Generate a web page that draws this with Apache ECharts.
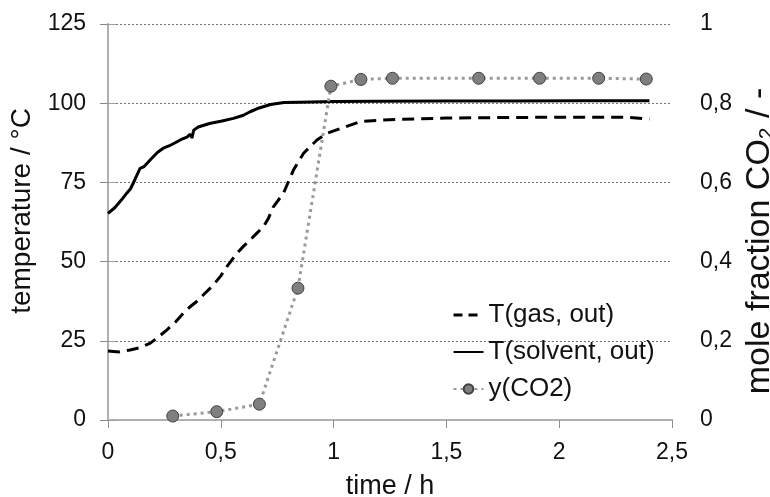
<!DOCTYPE html>
<html>
<head>
<meta charset="utf-8">
<script src="https://cdn.jsdelivr.net/npm/echarts@6/dist/echarts.min.js"></script>
<style>
  html, body { margin: 0; padding: 0; background: #fff; }
  #chart { width: 770px; height: 497px; }
</style>
</head>
<body>
<div id="chart"></div>
<script>
// time in h
var gasTime = [0, 0.05, 0.098, 0.14, 0.186, 0.22, 0.26, 0.30, 0.334, 0.36, 0.393, 0.43, 0.467, 0.50, 0.527, 0.571, 0.60, 0.63, 0.66, 0.689, 0.71, 0.733, 0.778, 0.822, 0.867, 0.926, 0.97, 1.03, 1.12, 1.22, 1.3, 1.5, 1.8, 2.1, 2.3, 2.4];
var gasTemp = [21.8, 21.5, 22.1, 22.8, 24.2, 26, 28.4, 31, 33.7, 35.5, 37.4, 40, 42.6, 45.5, 48.4, 52.6, 54.8, 56.8, 59, 61, 63.5, 67.3, 71.6, 78.9, 84.2, 88.4, 90.5, 92.0, 94.2, 94.7, 94.9, 95.3, 95.5, 95.6, 95.6, 95.0];

var solventTime = [0, 0.03, 0.06, 0.083, 0.10, 0.12, 0.142, 0.16, 0.19, 0.22, 0.245, 0.27, 0.30, 0.32, 0.35, 0.365, 0.372, 0.38, 0.40, 0.45, 0.50, 0.556, 0.60, 0.63, 0.67, 0.72, 0.78, 0.85, 1.0, 1.2, 1.5, 1.8, 2.1, 2.4];
var solventTemp = [65.2, 67, 69.5, 71.6, 73, 76, 79.4, 80, 82.3, 84.5, 85.8, 86.5, 87.6, 88.4, 89.3, 90.2, 89.0, 91.5, 92.5, 93.6, 94.3, 95.2, 96.2, 97.3, 98.5, 99.6, 100.2, 100.3, 100.5, 100.6, 100.7, 100.7, 100.8, 100.8];

var co2Time = [0.287, 0.482, 0.671, 0.842, 0.988, 1.121, 1.261, 1.643, 1.913, 2.175, 2.386];
var co2Frac = [0.010, 0.021, 0.040, 0.333, 0.843, 0.860, 0.863, 0.863, 0.863, 0.863, 0.861];

function pairs(xs, ys) {
  return xs.map(function (x, i) { return [x, ys[i]]; });
}
function comma(v) {
  return String(Math.round(v * 10) / 10).replace('.', ',');
}

var font = 'Liberation Sans, Arial, sans-serif';
var txt = '#111';
var noDot = { color: 'rgba(0,0,0,0)', borderWidth: 0 };
var chart = echarts.init(document.getElementById('chart'));

chart.setOption({
  animation: false,
  textStyle: { fontFamily: font },
  grid: { left: 108, right: 98, top: 24, bottom: 77, outerBoundsMode: 'none' },
  legend: {
    orient: 'vertical',
    left: 447,
    top: 297,
    itemWidth: 30,
    itemHeight: 12,
    itemGap: 11,
    textStyle: { fontSize: 26, color: txt, fontFamily: font },
    data: [
      { name: 'T(gas, out)', itemStyle: noDot, lineStyle: { type: [9, 6], width: 3 } },
      { name: 'T(solvent, out)', itemStyle: noDot },
      { name: 'y(CO2)' }
    ]
  },
  xAxis: [{
    type: 'value',
    min: 0, max: 2.5, interval: 0.5,
    name: 'time / h',
    nameLocation: 'middle',
    nameGap: 53,
    nameTextStyle: { fontSize: 27, color: txt },
    axisLine: { lineStyle: { color: '#b0b0b0', width: 2 } },
    axisTick: { show: true, length: 8, lineStyle: { color: '#909090' } },
    axisLabel: { fontSize: 23, color: txt, margin: 21, formatter: comma },
    splitLine: { show: false }
  }, {
    type: 'value',
    position: 'top',
    min: 0, max: 2.5,
    axisLine: { show: true, lineStyle: { color: '#b0b0b0', width: 2 } },
    axisTick: { show: false },
    axisLabel: { show: false },
    splitLine: { show: false }
  }],
  yAxis: [{
    type: 'value',
    min: 0, max: 125, interval: 25,
    name: 'temperature / °C',
    nameLocation: 'middle',
    nameGap: 70,
    nameRotate: 90,
    nameTextStyle: { fontSize: 28, color: txt, padding: [0, 0, 0, 22] },
    axisLine: { show: true, lineStyle: { color: '#888', width: 1 } },
    axisTick: { show: true, length: 8, lineStyle: { color: '#888' } },
    axisLabel: { fontSize: 23, color: txt, margin: 22 },
    splitLine: { show: true, lineStyle: { color: '#777', width: 1, type: [2, 2] } }
  }, {
    type: 'value',
    position: 'right',
    min: 0, max: 1, interval: 0.2,
    name: 'mole fraction CO{sub|2} / -',
    nameLocation: 'middle',
    nameGap: 68,
    nameRotate: 90,
    nameTextStyle: {
      fontSize: 34, color: txt, padding: [0, 38, 0, 0],
      rich: { sub: { fontSize: 21, color: txt, verticalAlign: 'bottom', padding: [14, 0, 0, 0] } }
    },
    axisLine: { show: true, lineStyle: { color: '#b0b0b0', width: 2 } },
    axisTick: { show: true, length: 8, lineStyle: { color: '#a0a0a0' } },
    axisLabel: { fontSize: 23, color: txt, margin: 28, formatter: comma },
    splitLine: { show: false }
  }],
  series: [{
    name: 'T(gas, out)',
    type: 'line',
    yAxisIndex: 0,
    showSymbol: false,
    symbol: 'none',
    data: pairs(gasTime, gasTemp),
    lineStyle: { color: '#000', width: 3, type: [12, 7] },
    itemStyle: { color: '#000' }
  }, {
    name: 'T(solvent, out)',
    type: 'line',
    yAxisIndex: 0,
    showSymbol: false,
    symbol: 'none',
    data: pairs(solventTime, solventTemp),
    lineStyle: { color: '#000', width: 3 },
    itemStyle: { color: '#000' }
  }, {
    name: 'y(CO2)',
    type: 'line',
    yAxisIndex: 1,
    symbol: 'circle',
    symbolSize: 12,
    data: pairs(co2Time, co2Frac),
    lineStyle: { color: '#9a9a9a', width: 3, type: [3, 4] },
    itemStyle: { color: '#7f7f7f', borderColor: '#404040', borderWidth: 1 }
  }]
});
</script>
</body>
</html>
